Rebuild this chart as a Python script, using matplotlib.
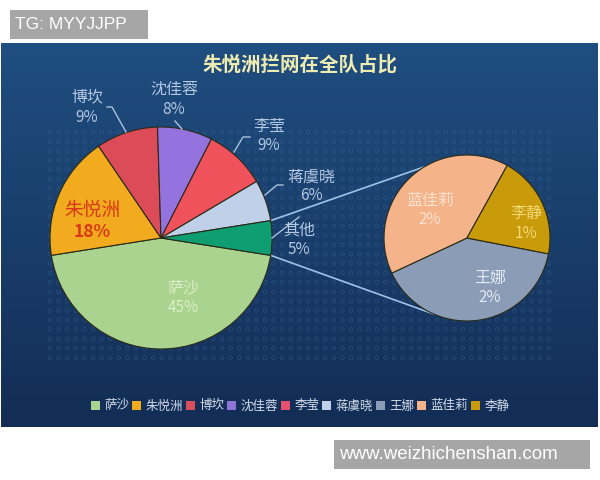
import numpy as np
import matplotlib.pyplot as plt
from matplotlib.patches import Rectangle, Patch

plt.rcParams['font.family'] = ['Noto Sans CJK SC', 'DejaVu Sans']

# data
title = '朱悦洲拦网在全队占比'
main_names = ['萨沙', '朱悦洲', '博坎', '沈佳蓉', '李莹', '蒋虞晓']
main_values = [45, 18, 9, 8, 9, 6]
sub_names = ['王娜', '蓝佳莉', '李静']
sub_values = [2, 2, 1]
other_name = '其他'

main_colors = ['#a9d38f', '#f2aa1e', '#dc4c58', '#9473df', '#ef525a', '#bfd0e8', '#0f9e72']
sub_colors = ['#8a9cb6', '#f5b38a', '#c99b0b']
legend_colors = ['#a9d38f', '#f2aa1e', '#d8505c', '#8f74d8', '#e4506e', '#bfd0e8',
                 '#8a9cb6', '#f5b38a', '#c99b0b']

W, H = 600, 480


def Y(y):
    return H - y


fig = plt.figure(figsize=(6, 4.8), dpi=100)
ax = fig.add_axes([0, 0, 1, 1])

# panel background (vertical gradient)
grad = np.linspace(0, 1, 256).reshape(-1, 1)
top = np.array([0x1f, 0x4e, 0x80]) / 255
bot = np.array([0x13, 0x2d, 0x55]) / 255
img = top + (bot - top) * grad[..., None]
ax.imshow(img, extent=(1, 598, Y(427), Y(43)), aspect='auto', zorder=0)

# faint texture of small rings
gx, gy = np.meshgrid(np.arange(50, 551, 8.6), np.arange(132, 364, 9.4))
ax.scatter(gx.ravel(), Y(gy.ravel()), s=7, marker='o', facecolors='none',
           edgecolors='#3a6898', linewidths=0.5, alpha=0.55, zorder=1)

# main pie
c_main, r_main = (161, Y(238)), 111
values = main_values + [sum(sub_values)]
wedges, _ = ax.pie(values, center=c_main, radius=r_main, startangle=-9,
                   counterclock=False, colors=main_colors,
                   wedgeprops=dict(edgecolor='#2a2a18', linewidth=0.8, zorder=3))

# second pie
c_sub, r_sub = (467, Y(238)), 83
wedges2, _ = ax.pie(sub_values, center=c_sub, radius=r_sub, startangle=-11,
                    counterclock=False, colors=sub_colors,
                    wedgeprops=dict(edgecolor='#2a2a18', linewidth=0.8, zorder=3))

# connector lines from 其他 wedge to second pie
ow = wedges[-1]
for a_main, a_sub in [(ow.theta2, 121), (ow.theta1, -114)]:
    p0 = (c_main[0] + r_main * np.cos(np.radians(a_main)),
          c_main[1] + r_main * np.sin(np.radians(a_main)))
    p1 = (c_sub[0] + r_sub * np.cos(np.radians(a_sub)),
          c_sub[1] + r_sub * np.sin(np.radians(a_sub)))
    ax.plot([p0[0], p1[0]], [p0[1], p1[1]], color='#9fc3e6', lw=1.2, zorder=2)

# labels (name, pct) positions in pixel coords
label_pos = {
    '萨沙': (183, 288, 307), '朱悦洲': (92, 210, 232), '博坎': (87, 97, 117),
    '沈佳蓉': (174, 89, 109), '李莹': (269, 127, 146), '蒋虞晓': (311, 177, 195),
    '其他': (299, 230, 249), '王娜': (490, 278, 297), '蓝佳莉': (430, 200, 220),
    '李静': (526, 213, 233),
}
label_color = {'萨沙': '#dcefc8', '朱悦洲': '#d63a18', '王娜': '#e2e9f4',
               '蓝佳莉': '#fbe2d0', '李静': '#f3d878'}
pcts = dict(zip(main_names + [other_name] + sub_names,
                main_values + [sum(sub_values)] + sub_values))
for name, (x, y1, y2) in label_pos.items():
    col = label_color.get(name, '#b3c7e1')
    big = name == '朱悦洲'
    ax.text(x, Y(y1), name, ha='center', va='center', color=col,
            fontsize=13.5 if big else 11.5, zorder=6)
    ax.text(x, Y(y2), f'{pcts[name]}%', ha='center', va='center', color=col,
            fontsize=12.5 if big else 11, fontweight='bold' if big else 'normal',
            zorder=6)

# leader lines
leaders = [
    [(107, 107), (112, 107), (126, 132)],
    [(175, 121), (182, 129)],
    [(250, 137), (243, 137), (234, 152)],
    [(283, 185), (277, 185), (265, 195)],
    [(299, 217), (272, 238)],
]
for pts in leaders:
    xs, ys = zip(*pts)
    ax.plot(xs, [Y(v) for v in ys], color='#a9c2dc', lw=1.0, zorder=5)

# title
ax.text(300, Y(65), title, ha='center', va='center', color='#efecb2',
        fontsize=14, fontweight='bold', zorder=6)

# legend
handles = [Patch(facecolor=c, edgecolor='none') for c in legend_colors]
leg = ax.legend(handles, main_names + sub_names, ncol=9, loc='center',
                bbox_to_anchor=(300 / W, Y(406) / H), frameon=False,
                handlelength=0.7, handleheight=0.7, handletextpad=0.35,
                columnspacing=0.25, fontsize=9, labelcolor='#d2dcea')

# watermark boxes
ax.add_patch(Rectangle((10, Y(39)), 138, 29, facecolor='#a6a6a6', edgecolor='none', zorder=7))
ax.text(15, Y(24.5), 'TG: MYYJJPP', ha='left', va='center', color='white',
        fontsize=12.5, family='Liberation Sans', zorder=8)
ax.add_patch(Rectangle((334, Y(469)), 256, 29, facecolor='#a6a6a6', edgecolor='none', zorder=7))
ax.text(339, Y(454.5), 'www.weizhichenshan.com', ha='left', va='center', color='white',
        fontsize=13.5, family='Liberation Sans', zorder=8)

ax.set_xlim(0, W)
ax.set_ylim(0, H)
ax.set_aspect('auto')
ax.axis('off')

fig.savefig('out.png', dpi=100, facecolor='white')
